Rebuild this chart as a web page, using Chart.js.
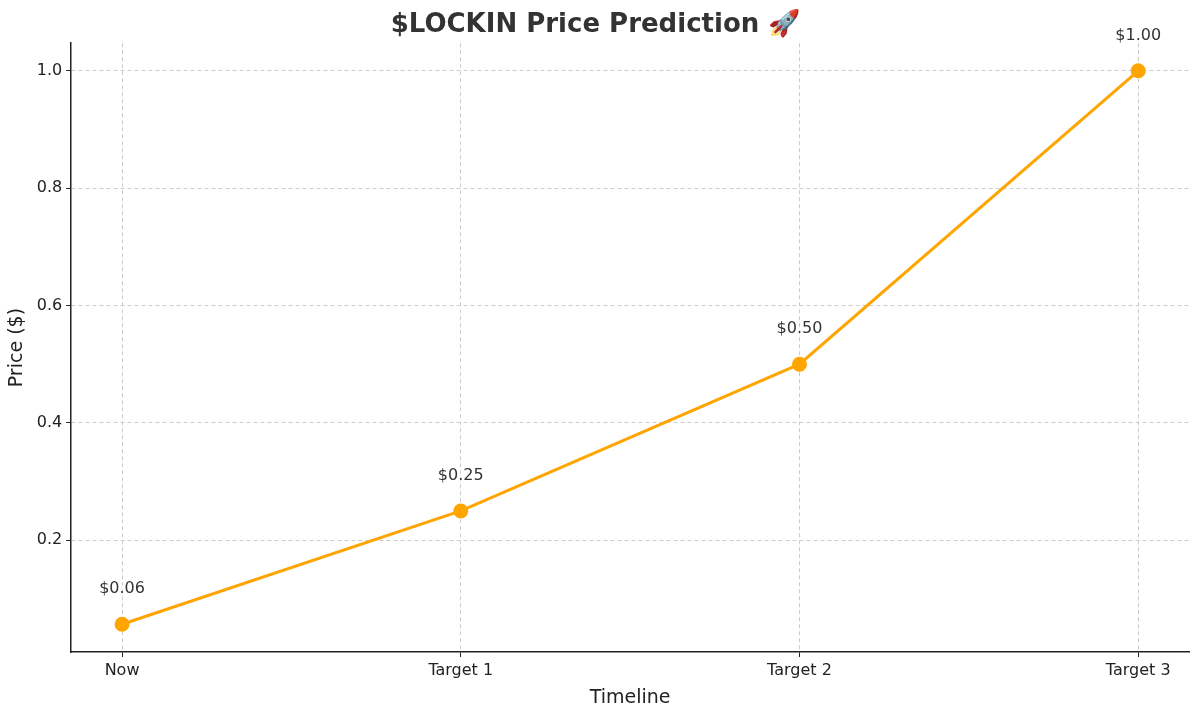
<!DOCTYPE html>
<html>
<head>
<meta charset="utf-8">
<script src="https://cdn.jsdelivr.net/npm/chart.js@4"></script>
<style>
  html, body { margin: 0; padding: 0; background: #fff; }
</style>
</head>
<body>
<canvas id="chart" width="1200" height="715"></canvas>
<script>
const categories = ["Now", "Target 1", "Target 2", "Target 3"];
const prices = [0.057, 0.25, 0.5, 1.0];
const priceLabels = ["$0.06", "$0.25", "$0.50", "$1.00"];
const yTicks = [0.2, 0.4, 0.6, 0.8, 1.0];

const FONT = "'DejaVu Sans', sans-serif";

const pointLabels = {
  id: "pointLabels",
  afterDatasetsDraw(chart) {
    const ctx = chart.ctx;
    const meta = chart.getDatasetMeta(0);
    ctx.save();
    ctx.font = "16px " + FONT;
    ctx.fillStyle = "#333";
    ctx.textAlign = "center";
    ctx.textBaseline = "middle";
    meta.data.forEach((pt, i) => {
      ctx.fillText(priceLabels[i], pt.x, pt.y - 35);
    });
    ctx.restore();
  }
};

new Chart(document.getElementById("chart"), {
  type: "line",
  data: {
    datasets: [{
      data: prices.map((p, i) => ({ x: i, y: p })),
      borderColor: "#ffa500",
      backgroundColor: "#ffa500",
      borderWidth: 3,
      pointRadius: 6,
      pointHoverRadius: 6,
      tension: 0
    }]
  },
  options: {
    responsive: false,
    animation: false,
    devicePixelRatio: 1,
    layout: { padding: { left: 2, right: 11, top: 0, bottom: 2 } },
    plugins: {
      legend: { display: false },
      tooltip: { enabled: false },
      title: {
        display: true,
        text: "$LOCKIN Price Prediction 🚀",
        color: "#333",
        font: { family: FONT, size: 26, weight: "bold" },
        padding: { top: 10, bottom: 2 }
      }
    },
    scales: {
      x: {
        type: "linear",
        min: -0.15,
        max: 3.15,
        afterBuildTicks: (axis) => { axis.ticks = categories.map((_, i) => ({ value: i })); },
        ticks: {
          callback: (v) => categories[v] ?? "",
          color: "#222",
          font: { family: FONT, size: 16 },
          padding: 4
        },
        grid: { color: "#cccccc", tickColor: "#222", tickLength: 5 },
        border: { display: true, color: "#222", width: 1.5, dash: [4, 3] },
        title: { display: true, text: "Timeline", color: "#222", font: { family: FONT, size: 19 }, padding: { top: 2 } }
      },
      y: {
        min: 0.0097,
        max: 1.047,
        afterBuildTicks: (axis) => { axis.ticks = yTicks.map(v => ({ value: v })); },
        ticks: {
          callback: (v) => v.toFixed(1),
          color: "#222",
          font: { family: FONT, size: 16 },
          padding: 4
        },
        grid: { color: "#cccccc", tickColor: "#222", tickLength: 5 },
        border: { display: true, color: "#222", width: 1.5, dash: [4, 3] },
        title: { display: true, text: "Price ($)", color: "#222", font: { family: FONT, size: 19 }, padding: { bottom: 4 } }
      }
    }
  },
  plugins: [pointLabels]
});
</script>
</body>
</html>
